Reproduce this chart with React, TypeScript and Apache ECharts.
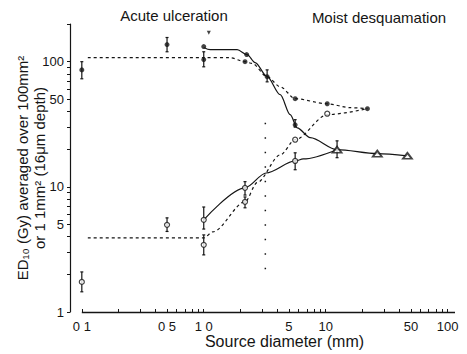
import React, { useEffect, useRef } from "react";
import * as echarts from "echarts";

// Axis tick labels
const xTickValues = [0.1, 0.5, 1, 5, 10, 50, 100];
const xTickLabels = ["0 1", "0 5", "1 0", "5", "10", "50", "100"];
const yTickValues = [1, 5, 10, 50, 100];
const yTickLabels = ["1", "5", "10", "50", "100"];
const xMinorTicks = [0.1, 0.2, 0.3, 0.4, 0.5, 0.6, 0.7, 0.8, 0.9, 1, 2, 3, 4, 5, 6, 7, 8, 9, 10, 20, 30, 40, 50, 60, 70, 80, 90, 100];
const yMinorTicks = [1, 2, 3, 4, 5, 6, 7, 8, 9, 10, 20, 30, 40, 50, 60, 70, 80, 90, 100, 200];

// Fitted curves
const acuteLargeX = [0.112, 1.0, 1.64, 2.18, 2.49, 3.31, 4.24, 5.62, 10.3, 15.9, 22];
const acuteLargeY = [107.6, 107.6, 107.6, 100, 97, 75.9, 63, 50.6, 46.1, 42.9, 42.1];
const moistLargeX = [1.0, 1.13, 1.88, 2.27, 2.64, 3.31, 4.24, 5.12, 5.84, 7.47, 12.4, 26.5, 46.8];
const moistLargeY = [130, 124.7, 124.7, 113.8, 98.2, 75.9, 54.5, 37.7, 29.6, 24.7, 19.8, 18.4, 17.7];
const acuteSmallX = [0.112, 1.0, 1.19, 2.18, 2.74, 4.24, 5.62, 10.3, 22];
const acuteSmallY = [3.91, 3.91, 4.37, 7.59, 10.8, 18.0, 23.8, 37.7, 42.1];
const moistSmallX = [1.0, 2.18, 3.25, 5.62, 6.55, 12.4];
const moistSmallY = [5.45, 9.82, 12.9, 16.1, 16.7, 19.8];

// Vertical dotted marker line
const dottedX = [3.2, 3.2];
const dottedY = [2.2, 35.6];

// Measured points
const filledX = [0.1, 0.5, 1.0, 1.0, 2.25, 2.18, 3.31, 5.62, 5.62, 10.3, 22];
const filledY = [86, 137, 104, 132, 114, 100, 75.9, 50.6, 31.3, 46.1, 42.1];
const openX = [0.1, 0.5, 1.0, 1.0, 2.18, 2.18, 5.62, 5.62, 10.3];
const openY = [1.74, 4.97, 3.44, 5.45, 9.82, 7.59, 16.1, 23.8, 38.4];
const triX = [12.4, 26.5, 46.8];
const triY = [19.8, 18.4, 17.7];
const arrowX = [1.1];
const arrowY = [170];

// Error bars
const errX = [0.1, 0.5, 1.0, 3.31, 5.62, 0.1, 0.5, 1.0, 1.0, 2.18, 2.18, 5.62, 12.4];
const errLo = [73, 120, 91, 69, 30, 1.45, 4.4, 2.86, 4.6, 8.6, 6.8, 13.7, 17.1];
const errHi = [100, 156, 120, 86, 34.4, 2.09, 5.65, 4.13, 6.9, 11, 8.3, 18.7, 23.3];

const INK = "#151515";
const FONT = "'Liberation Sans', Arial, sans-serif";

const zip = (xs: number[], ys: number[]) => xs.map((x, i) => [x, ys[i]]);
const labelFor = (vals: number[], labels: string[]) => (v: number) => {
  for (let i = 0; i < vals.length; i++) {
    if (Math.abs(Math.log10(v) - Math.log10(vals[i])) < 1e-6) return labels[i];
  }
  return "";
};

export default function App() {
  const ref = useRef<HTMLDivElement>(null);
  useEffect(() => {
    if (!ref.current) return;
    const chart = echarts.init(ref.current, null, { renderer: "svg" });
    const dashed = { color: INK, width: 1.2, type: [3, 3] as any };
    const solid = { color: INK, width: 1.2, type: "solid" as any };
    const option: any = {
      animation: false,
      backgroundColor: "#ffffff",
      textStyle: { fontFamily: FONT },
      grid: { left: 70, right: 12, top: 24, bottom: 42, outerBoundsMode: "none" },
      graphic: [
        {
          type: "text",
          x: 174,
          y: 15,
          style: { text: "Acute ulceration", fontSize: 15, fontFamily: FONT, fill: INK, align: "center", verticalAlign: "middle" },
        },
        {
          type: "text",
          x: 379,
          y: 17,
          style: { text: "Moist desquamation", fontSize: 15, fontFamily: FONT, fill: INK, align: "center", verticalAlign: "middle" },
        },
      ],
      xAxis: {
        type: "log",
        logBase: 10,
        min: 0.08,
        max: 115,
        axisLine: { show: false },
        axisTick: { show: true, inside: true, length: 3, customValues: xMinorTicks, lineStyle: { color: INK } },
        axisLabel: { customValues: xTickValues, formatter: labelFor(xTickValues, xTickLabels), fontSize: 13, color: INK, margin: 8, fontFamily: FONT },
        splitLine: { show: false },
        name: "Source diameter (mm)",
        nameLocation: "middle",
        nameGap: 21,
        nameMoveOverlap: false,
        nameTextStyle: { fontSize: 16, color: INK, padding: [0, 0, 0, 44], fontFamily: FONT },
      },
      yAxis: {
        type: "log",
        logBase: 10,
        min: 1,
        max: 200,
        axisLine: { show: true, lineStyle: { color: INK, width: 1.2 } },
        axisTick: { show: true, length: 3, customValues: yMinorTicks, lineStyle: { color: INK } },
        axisLabel: { customValues: yTickValues, formatter: labelFor(yTickValues, yTickLabels), fontSize: 13, color: INK, margin: 6, fontFamily: FONT },
        splitLine: { show: false },
        name: "ED\u2081\u2080 (Gy) averaged over 100mm\u00b2\nor 1 1mm\u00b2 (16\u03bcm depth)",
        nameLocation: "middle",
        nameGap: 22,
        nameMoveOverlap: false,
        nameTextStyle: { fontSize: 15, lineHeight: 17, color: INK, fontFamily: FONT },
      },
      series: [
        { type: "line", data: zip(acuteLargeX, acuteLargeY), showSymbol: false, smooth: 0.3, smoothMonotone: "x", lineStyle: dashed, z: 2 },
        { type: "line", data: zip(moistLargeX, moistLargeY), showSymbol: false, smooth: 0.3, smoothMonotone: "x", lineStyle: solid, z: 2 },
        { type: "line", data: zip(acuteSmallX, acuteSmallY), showSymbol: false, smooth: 0.3, smoothMonotone: "x", lineStyle: dashed, z: 2 },
        { type: "line", data: zip(moistSmallX, moistSmallY), showSymbol: false, smooth: 0.3, smoothMonotone: "x", lineStyle: solid, z: 2 },
        {
          type: "line",
          data: zip(dottedX, dottedY),
          showSymbol: false,
          lineStyle: { color: INK, width: 1.5, type: [1.5, 13] },
          z: 2,
          markLine: {
            symbol: "none",
            silent: true,
            label: { show: false },
            lineStyle: { color: INK, width: 1.3, type: "solid" },
            data: [[{ coord: [0.1, 1] }, { coord: [115, 1] }]],
          },
        },
        {
          type: "custom",
          data: errX.map((x, i) => [x, errLo[i], errHi[i]]),
          encode: { x: 0, y: [1, 2] },
          clip: false,
          z: 3,
          renderItem: (_p: any, api: any) => {
            const x = api.value(0);
            const a = api.coord([x, api.value(1)]);
            const b = api.coord([x, api.value(2)]);
            const st = { stroke: INK, lineWidth: 1.2 };
            return {
              type: "group",
              children: [
                { type: "line", shape: { x1: a[0], y1: a[1], x2: b[0], y2: b[1] }, style: st },
                { type: "line", shape: { x1: a[0] - 1.5, y1: a[1], x2: a[0] + 1.5, y2: a[1] }, style: st },
                { type: "line", shape: { x1: b[0] - 1.5, y1: b[1], x2: b[0] + 1.5, y2: b[1] }, style: st },
              ],
            };
          },
        },
        { type: "scatter", data: zip(filledX, filledY), symbol: "circle", symbolSize: 5, itemStyle: { color: INK }, z: 4 },
        { type: "scatter", data: zip(openX, openY), symbol: "circle", symbolSize: 5, itemStyle: { color: "#fff", borderColor: INK, borderWidth: 1.2 }, z: 4 },
        { type: "scatter", data: zip(triX, triY), symbol: "triangle", symbolSize: [9, 6], itemStyle: { color: "#fff", borderColor: INK, borderWidth: 1.8 }, z: 4 },
        { type: "scatter", data: zip(arrowX, arrowY), symbol: "triangle", symbolRotate: 180, symbolSize: 4, itemStyle: { color: INK }, z: 4 },
      ],
    };
    chart.setOption(option);
    return () => chart.dispose();
  }, []);
  return <div ref={ref} style={{ position: "absolute", left: 0, top: 0, width: 467, height: 354 }} />;
}
